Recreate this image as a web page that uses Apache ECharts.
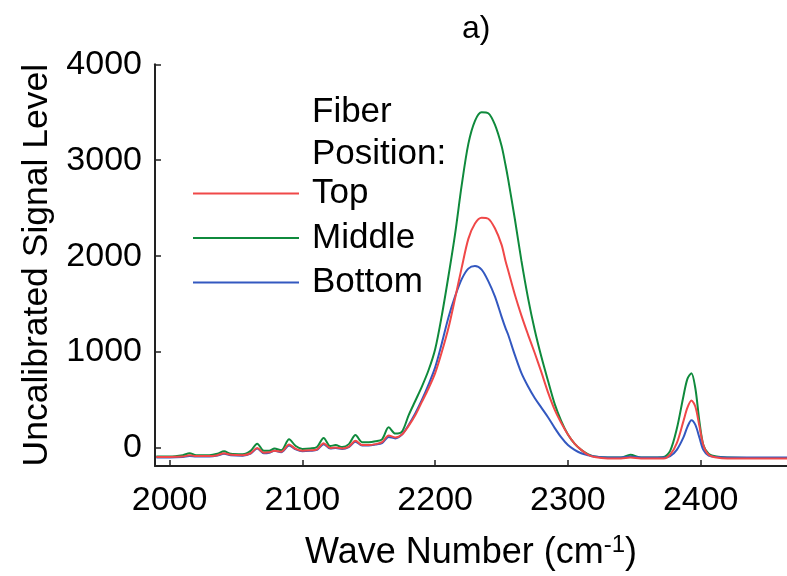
<!DOCTYPE html>
<html>
<head>
<meta charset="utf-8">
<script src="https://cdn.jsdelivr.net/npm/echarts@6/dist/echarts.min.js"></script>
<style>
html,body{margin:0;padding:0;background:#fff;}
#chart{width:787px;height:576px;}
</style>
</head>
<body>
<div id="chart"></div>
<script>
var waveNumbers = [1990, 2000, 2010, 2015, 2020, 2030, 2036, 2041, 2046, 2055, 2061, 2066, 2071, 2075, 2079, 2084, 2090, 2095, 2100, 2106, 2111, 2116, 2121, 2125, 2130, 2135, 2140, 2145, 2150, 2155, 2160, 2165, 2170, 2175, 2180, 2185, 2190, 2195, 2200, 2205, 2210, 2215, 2220, 2225, 2230, 2235, 2240, 2245, 2250, 2253, 2255, 2260, 2265, 2270, 2275, 2280, 2285, 2290, 2295, 2300, 2305, 2310, 2315, 2320, 2330, 2340, 2347, 2355, 2365, 2372, 2377, 2382, 2387, 2390, 2393, 2396, 2399, 2402, 2406, 2412, 2420, 2435, 2450, 2465];

var topSignal = [-95, -95, -90, -75, -85, -85, -75, -55, -70, -75, -55, 0, -50, -45, -30, -40, 35, -10, -30, -25, -15, 50, 0, 5, -5, 15, 75, 30, 30, 40, 60, 130, 110, 140, 230, 340, 480, 620, 780, 1000, 1250, 1560, 1880, 2180, 2340, 2400, 2390, 2290, 2120, 1950, 1850, 1600, 1380, 1180, 990, 790, 580, 400, 260, 140, 45, -20, -70, -95, -110, -110, -100, -110, -110, -110, -70, 50, 280, 420, 495, 430, 230, 30, -70, -100, -110, -110, -110, -110];

var middleSignal = [-90, -90, -75, -55, -75, -75, -60, -35, -60, -65, -30, 45, -30, -30, -5, -25, 90, 20, -10, -5, 10, 105, 20, 30, 10, 40, 135, 60, 60, 70, 90, 215, 150, 170, 340, 490, 640, 810, 1030, 1380, 1790, 2230, 2740, 3170, 3410, 3500, 3490, 3370, 3150, 2950, 2800, 2390, 1950, 1560, 1230, 950, 700, 460, 280, 140, 45, -20, -65, -90, -100, -100, -70, -100, -100, -95, -30, 200, 540, 720, 780, 620, 280, 30, -60, -90, -100, -105, -105, -105];

var bottomSignal = [-100, -100, -95, -85, -90, -90, -80, -60, -75, -80, -60, -5, -55, -50, -30, -45, 25, -15, -35, -30, -20, 40, -5, 0, -10, 10, 65, 25, 25, 35, 50, 115, 100, 140, 240, 360, 500, 660, 840, 1090, 1360, 1580, 1760, 1870, 1897, 1860, 1740, 1580, 1370, 1250, 1180, 970, 780, 640, 520, 420, 320, 210, 110, 30, -20, -55, -75, -90, -100, -100, -90, -100, -100, -100, -85, -20, 110, 220, 290, 240, 110, -20, -80, -95, -100, -100, -100, -100];

var seriesNames = ['Top', 'Middle', 'Bottom'];
var seriesColors = ['#f04848', '#0f8a3c', '#3358c0'];
var xTicks = [2000, 2100, 2200, 2300, 2400];
var yTicks = [0, 1000, 2000, 3000, 4000];

function pairs(ys) {
  return waveNumbers.map(function (x, i) { return [x, ys[i]]; });
}

var FONT = '"Liberation Sans", Arial, sans-serif';
var chart = echarts.init(document.getElementById('chart'), null, {renderer: 'canvas'});

var allData = [topSignal, middleSignal, bottomSignal];
var series = [];
[1, 2, 0].forEach(function (i) {
  series.push({
    name: seriesNames[i],
    type: 'line',
    data: pairs(allData[i]),
    symbol: 'none',
    smooth: 0.3,
    lineStyle: {width: 2, color: seriesColors[i]},
    itemStyle: {color: seriesColors[i]},
    z: 3
  });
});

function plain(v) { return String(v); }

chart.setOption({
  animation: false,
  backgroundColor: '#ffffff',
  title: {
    text: 'a)',
    left: 457,
    top: 8,
    textStyle: {fontFamily: FONT, fontSize: 32, fontWeight: 'normal', color: '#000'}
  },
  legend: {
    data: seriesNames,
    orient: 'vertical',
    left: 193,
    top: 176,
    padding: 0,
    icon: 'rect',
    itemWidth: 106,
    itemHeight: 2,
    itemGap: 9.5,
    textStyle: {fontFamily: FONT, fontSize: 35, color: '#000', lineHeight: 34, padding: [0, 0, 0, 8]}
  },
  graphic: [
    {type: 'text', left: 312, top: 95, style: {text: 'Fiber', font: '35px ' + FONT, fill: '#000'}},
    {type: 'text', left: 312, top: 137, style: {text: 'Position:', font: '35px ' + FONT, fill: '#000'}}
  ],
  grid: {left: 155, right: 0, top: 64.3, bottom: 105.5, containLabel: false},
  xAxis: {
    type: 'value',
    min: 1989,
    max: 2465,
    name: 'Wave Number (cm{sup|-1})',
    nameLocation: 'middle',
    nameGap: 67,
    nameTextStyle: {
      fontFamily: FONT, fontSize: 36, color: '#000',
      rich: {sup: {fontFamily: FONT, fontSize: 24, verticalAlign: 'top', padding: [0, 0, 16, 0], color: '#000'}}
    },
    axisLine: {show: true, onZero: false, lineStyle: {color: '#222', width: 2}},
    axisTick: {show: true, inside: true, length: 6, customValues: xTicks, lineStyle: {color: '#222', width: 1.5}},
    axisLabel: {customValues: xTicks, formatter: plain, margin: 18, fontFamily: FONT, fontSize: 34, color: '#000'},
    splitLine: {show: false}
  },
  yAxis: {
    type: 'value',
    min: -188,
    max: 4000,
    name: 'Uncalibrated Signal Level',
    nameLocation: 'middle',
    nameGap: 99,
    nameTextStyle: {fontFamily: FONT, fontSize: 35.5, color: '#000'},
    axisLine: {show: true, onZero: false, lineStyle: {color: '#222', width: 2}},
    axisTick: {show: true, inside: true, length: 6, customValues: yTicks, lineStyle: {color: '#222', width: 1.5}},
    axisLabel: {customValues: yTicks, formatter: plain, margin: 13, fontFamily: FONT, fontSize: 34, color: '#000'},
    splitLine: {show: false}
  },
  series: series
});
</script>
</body>
</html>
